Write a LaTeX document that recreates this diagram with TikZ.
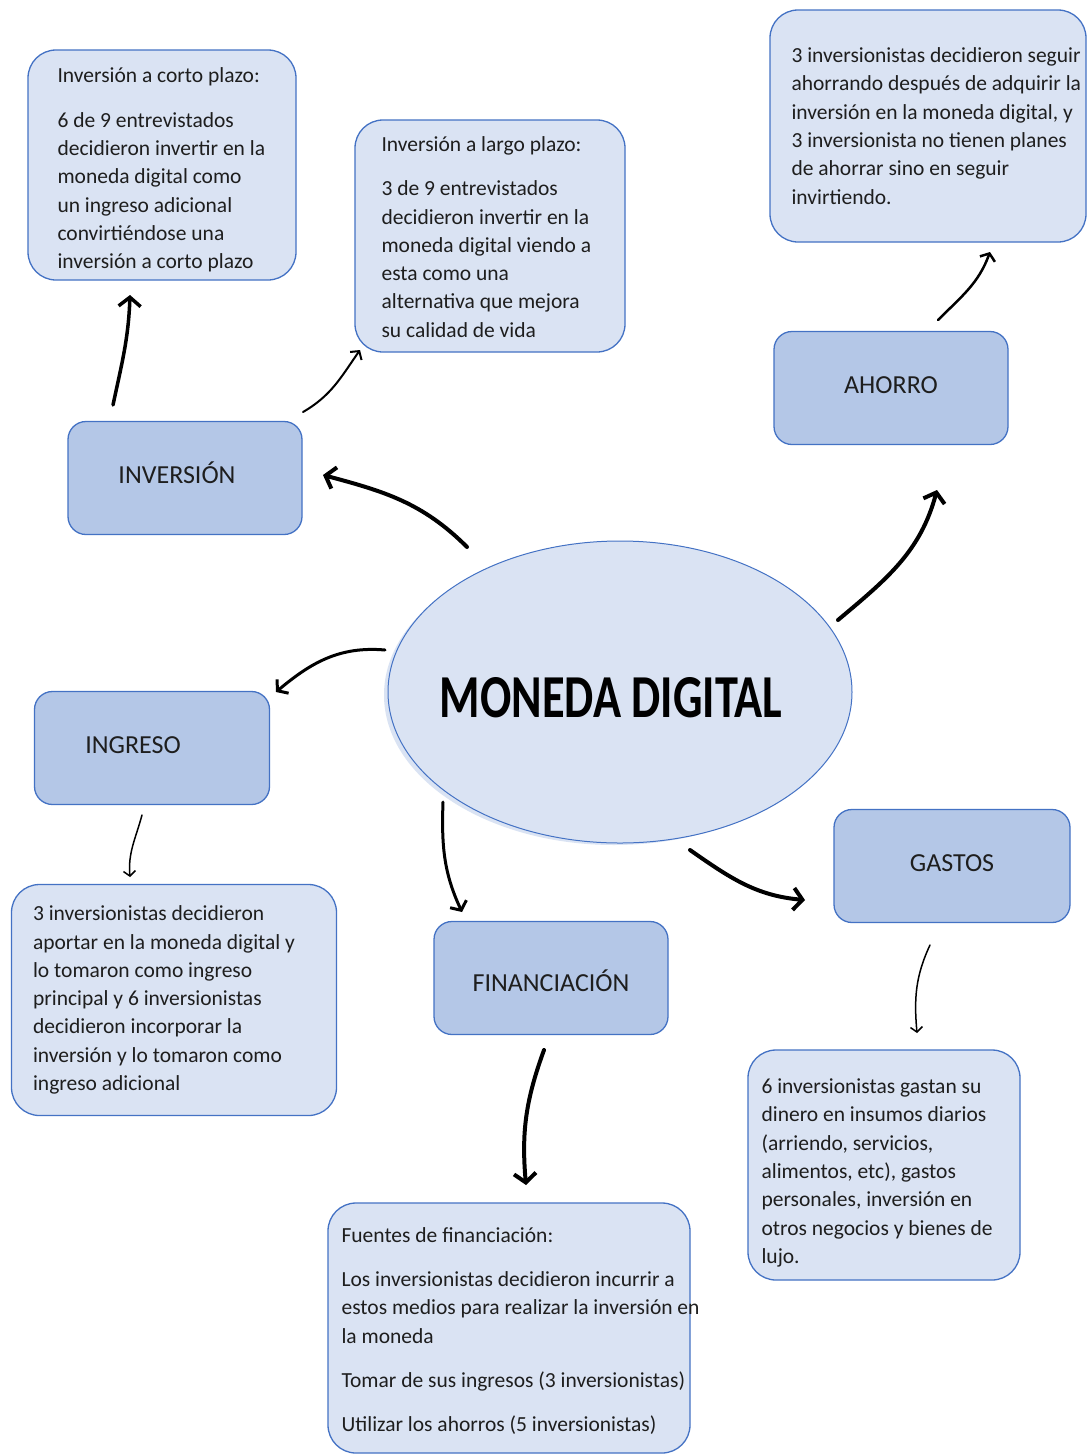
\documentclass[tikz,border=0pt]{standalone}
\usepackage{fontspec}
\setmainfont{Carlito}
\usetikzlibrary{arrows.meta,shapes.geometric}
\definecolor{boxfill}{HTML}{DAE3F3}
\definecolor{headfill}{HTML}{B4C7E7}
\definecolor{edgeblue}{HTML}{4472C4}
\definecolor{ink}{HTML}{1E1E1E}
\tikzset{
  infobox/.style={draw=edgeblue,line width=1.3pt,fill=boxfill,rounded corners=28pt,inner sep=0pt},
  infotext/.style={align=left,anchor=west,inner sep=0pt,text=ink,font=\fontsize{21.5}{28.3}\selectfont},
  headbox/.style={draw=edgeblue,line width=1.3pt,fill=headfill,rounded corners=18pt,inner sep=0pt,
     minimum width=234pt,minimum height=113pt,text height=17pt,text depth=6pt,text=ink,font=\fontsize{26}{30}\selectfont},
  conn/.style={draw=black,line cap=round,-{Straight Barb[length=9pt,width=22pt]}},
}
\begin{document}
\begin{tikzpicture}[x=1pt,y=1pt]
\useasboundingbox (0,0) rectangle (1088,-1454);
\fill[white] (0,0) rectangle (1088,-1454);

% central ellipse
\fill[boxfill] (614,-695) ellipse [x radius=230, y radius=150];
\node[ellipse,draw=edgeblue,line width=1pt,fill=boxfill,minimum width=464pt,minimum height=302pt,inner sep=0pt] (ell) at (620,-692) {};
\node[inner sep=0pt] (title) at (611,-698) {\resizebox{342pt}{40pt}{\bfseries MONEDA DIGITAL}};

% info boxes
\node[infobox,minimum width=268pt,minimum height=230pt] (b1) at (162,-165) {};
\node[infotext] (t1) at ([xshift=30pt,yshift=-5pt]b1.west) {Inversión a corto plazo:\\[16pt]6 de 9 entrevistados\\decidieron invertir en la\\moneda digital como\\un ingreso adicional\\convirtiéndose una\\inversión a corto plazo};

\node[infobox,minimum width=270pt,minimum height=232pt] (b2) at (490,-236) {};
\node[infotext] (t2) at ([xshift=27pt,yshift=-1pt]b2.west) {Inversión a largo plazo:\\[16pt]3 de 9 entrevistados\\decidieron invertir en la\\moneda digital viendo a\\esta como una\\alternativa que mejora\\su calidad de vida};

\node[infobox,minimum width=316pt,minimum height=232pt] (b3) at (928,-126) {};
\node[infotext] (t3) at ([xshift=22pt]b3.west) {3 inversionistas decidieron seguir\\ahorrando después de adquirir la\\inversión en la moneda digital, y\\3 inversionista no tienen planes\\de ahorrar sino en seguir\\invirtiendo.};

\node[infobox,minimum width=325pt,minimum height=231pt] (b4) at (174,-1000) {};
\node[infotext] (t4) at ([xshift=22pt]b4.west) {3 inversionistas decidieron\\aportar en la moneda digital y\\lo tomaron como ingreso\\principal y 6 inversionistas\\decidieron incorporar la\\inversión y lo tomaron como\\ingreso adicional};

\node[infobox,minimum width=272pt,minimum height=230pt] (b5) at (884,-1165) {};
\node[infotext] (t5) at ([xshift=14pt,yshift=-8pt]b5.west) {6 inversionistas gastan su\\dinero en insumos diarios\\(arriendo, servicios,\\alimentos, etc), gastos\\personales, inversión en\\otros negocios y bienes de\\lujo.};

\node[infobox,minimum width=362pt,minimum height=250pt] (b6) at (509,-1328) {};
\node[infotext] (t6) at ([xshift=14pt,yshift=-3pt]b6.west) {Fuentes de financiación:\\[16pt]Los inversionistas decidieron incurrir a\\estos medios para realizar la inversión en\\la moneda\\[16pt]Tomar de sus ingresos (3 inversionistas)\\[16pt]Utilizar los ahorros (5 inversionistas)};

% header boxes
\node[headbox] (hA) at (891,-388) {AHORRO};
\node[headbox] (hI) at (185,-478) {\hspace*{-16pt}INVERSIÓN};
\node[headbox,minimum width=235pt] (hG) at (152,-748) {\hspace*{-38pt}INGRESO};
\node[headbox] (hF) at (551,-978) {\raisebox{-8pt}{FINANCIACIÓN}};
\node[headbox,minimum width=236pt] (hS) at (952,-866) {GASTOS};

% connector end points
\coordinate (a1s) at (467,-547); \coordinate (a1e) at (323,-475);
\coordinate (a2s) at (113,-405); \coordinate (a2e) at (130,-295);
\coordinate (a3s) at (303,-412); \coordinate (a3e) at (360,-350);
\coordinate (a4s) at (838,-620); \coordinate (a4e) at (937,-490);
\coordinate (a5s) at (938,-320); \coordinate (a5e) at (990,-252);
\coordinate (a6s) at (385,-650); \coordinate (a6e) at (276,-692);
\coordinate (a7s) at (142,-815); \coordinate (a7e) at (130,-877);
\coordinate (a8s) at (443,-802); \coordinate (a8e) at (462,-912);
\coordinate (a9s) at (690,-850); \coordinate (a9e) at (805,-900);
\coordinate (a10s) at (930,-945); \coordinate (a10e) at (917,-1033);
\coordinate (a11s) at (544,-1050); \coordinate (a11e) at (526,-1185);

\draw[conn,line width=4pt] (a1s) to[out=135,in=-15] (a1e);
\draw[conn,line width=3.5pt] (a2s) to[out=78,in=-92] (a2e);
\draw[conn,line width=2pt,-{Straight Barb[length=6pt,width=14pt]}] (a3s) to[out=30,in=-125] (a3e);
\draw[conn,line width=4pt] (a4s) to[out=40,in=-105] (a4e);
\draw[conn,line width=2.5pt,-{Straight Barb[length=6pt,width=16pt]}] (a5s) to[out=45,in=-110] (a5e);
\draw[conn,line width=3pt,-{Straight Barb[length=7pt,width=18pt]}] (a6s) to[out=175,in=40] (a6e);
\draw[conn,line width=1.5pt,-{Straight Barb[length=5pt,width=12pt]}] (a7s) to[out=-105,in=95] (a7e);
\draw[conn,line width=3pt,-{Straight Barb[length=7pt,width=18pt]}] (a8s) to[out=-92,in=115] (a8e);
\draw[conn,line width=4pt] (a9s) to[out=-35,in=175] (a9e);
\draw[conn,line width=1.5pt,-{Straight Barb[length=5pt,width=12pt]}] (a10s) to[out=-115,in=95] (a10e);
\draw[conn,line width=4pt] (a11s) to[out=-110,in=95] (a11e);
\end{tikzpicture}
\end{document}
